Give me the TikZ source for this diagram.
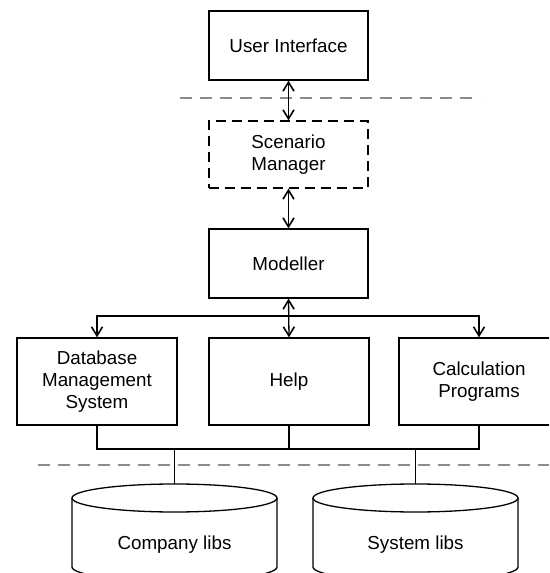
\documentclass[tikz,border=0pt]{standalone}
\usepackage{fontspec}
\setmainfont{Liberation Sans}
\usetikzlibrary{arrows.meta}
\tikzset{
  box/.style={draw, line width=1.3pt, align=center, inner sep=0pt,
    minimum width=159pt, font=\fontsize{18.8}{22}\selectfont},
  dbox/.style={box, dash pattern=on 10pt off 6pt},
  conn/.style={line width=1.3pt},
  tip/.style={},
  arr/.style={conn, -{Straight Barb[length=9pt,width=11pt,line width=1.6pt]}},
  dbl/.style={conn, {Straight Barb[length=9pt,width=11pt,line width=1.6pt]}-{Straight Barb[length=9pt,width=11pt,line width=1.6pt]}},
  sep/.style={draw=gray!90, line width=1.3pt, dash pattern=on 12pt off 8pt},
  cyl/.style={line width=1.3pt},
  lbl/.style={font=\fontsize{18.8}{22}\selectfont}
}
\begin{document}
\begin{tikzpicture}[x=1pt,y=1pt]
\useasboundingbox (0,0) rectangle (549,573);
\clip (0,0) rectangle (549,573);
% boxes
\node[box, minimum height=69pt] (ui) at (288.5,527.5) {User Interface};
\node[dbox, minimum height=67pt] (sm) at (288.5,418.5) {Scenario\\Manager};
\node[box, minimum height=69pt] (mod) at (288.5,309.5) {Modeller};
\node[box, minimum width=160pt, minimum height=87pt] (db) at (97,191.5) {Database\\Management\\System};
\node[box, minimum width=160pt, minimum height=87pt] (help) at (289,191.5) {Help};
\node[box, minimum width=160pt, minimum height=87pt] (calc) at (479,191.5) {Calculation\\Programs};
% separators
\coordinate (s1a) at (180,475);
\coordinate (s1b) at (480,475);
\coordinate (s2a) at (38,108);
\coordinate (s2b) at (549,108);
\draw[sep] (s1a) -- (s1b);
\draw[sep] (s2a) -- (s2b);
% vertical double arrows
\draw[dbl] (ui.south) -- (sm.north);
\draw[dbl] (sm.south) -- (mod.north);
\draw[dbl] (mod.south) -- (help.north);
% branch
\coordinate (br) at (288.5,257);
\draw[arr] (br) -| (db.north);
\draw[arr] (br) -| (calc.north);
% bottom join
\coordinate (bot) at (289,124);
\draw[conn] (db.south) |- (bot) -| (calc.south);
\draw[conn] (help.south) -- (bot);
% cylinders
\coordinate (clibtop) at (174.5,89);
\coordinate (slibtop) at (415.5,89);
\draw[cyl] (174.5,75) ellipse [x radius=102.5pt, y radius=14pt];
\draw[cyl] (72,75) -- (72,6) arc[start angle=180, end angle=360, x radius=102.5pt, y radius=14pt] -- (277,75);
\draw[cyl] (415.5,75) ellipse [x radius=102.5pt, y radius=14pt];
\draw[cyl] (313,75) -- (313,6) arc[start angle=180, end angle=360, x radius=102.5pt, y radius=14pt] -- (518,75);
\node[lbl] (clib) at (174.5,28) {Company libs};
\node[lbl] (slib) at (415.5,28) {System libs};
\draw[conn] (clibtop) -- (clibtop |- bot);
\draw[conn] (slibtop) -- (slibtop |- bot);
\end{tikzpicture}
\end{document}
